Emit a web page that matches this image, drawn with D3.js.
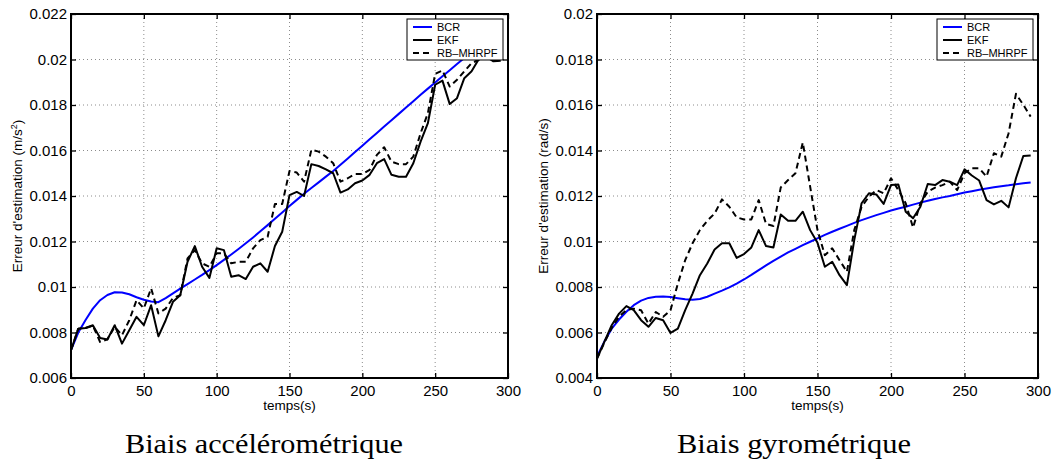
<!DOCTYPE html>
<html>
<head>
<meta charset="utf-8">
<script src="https://cdn.jsdelivr.net/npm/d3@7"></script>
<style>
  body { margin: 0; background: #fff; }
  text { font-family: "Liberation Sans", Arial, sans-serif; }
</style>
</head>
<body>
<svg id="fig" width="1059" height="461"></svg>
<script>
// time samples (s), shared by every series
var temps = [0, 5, 10, 15, 20, 25, 30, 35, 40, 45, 50, 55, 60, 65, 70, 75, 80, 85, 90, 95,
    100, 105, 110, 115, 120, 125, 130, 135, 140, 145, 150, 155, 160, 165, 170, 175, 180, 185, 190, 195,
    200, 205, 210, 215, 220, 225, 230, 235, 240, 245, 250, 255, 260, 265, 270, 275, 280, 285, 290, 295];

var xTicks = [0, 50, 100, 150, 200, 250, 300];
var yTicksAcc = [0.006, 0.008, 0.010, 0.012, 0.014, 0.016, 0.018, 0.020, 0.022];
var yTicksGyr = [0.004, 0.006, 0.008, 0.010, 0.012, 0.014, 0.016, 0.018, 0.020];

var seriesNames = ['BCR', 'EKF', 'RB\u2013MHRPF'];

// accelerometer bias
var accBCR = [0.00722, 0.00800, 0.00855, 0.00905, 0.00942, 0.00965, 0.00977, 0.00976, 0.00968, 0.00955,
    0.00944, 0.00936, 0.00933, 0.00951, 0.00972, 0.00993, 0.01013, 0.01033, 0.01053, 0.01074,
    0.01096, 0.01119, 0.01143, 0.01167, 0.01192, 0.01218, 0.01245, 0.01272, 0.01300, 0.01328,
    0.01356, 0.01383, 0.01410, 0.01435, 0.01460, 0.01485, 0.01510, 0.01537, 0.01565, 0.01593,
    0.01621, 0.01649, 0.01677, 0.01705, 0.01733, 0.01761, 0.01789, 0.01817, 0.01845, 0.01872,
    0.01899, 0.01926, 0.01953, 0.01980, 0.02007, 0.02034, 0.02060, 0.02087, 0.02113, 0.02140];
var accEKF = [0.00722, 0.00817, 0.00820, 0.00832, 0.00776, 0.00769, 0.00832, 0.00751, 0.00810, 0.00869,
    0.00832, 0.00920, 0.00783, 0.00854, 0.00935, 0.00964, 0.01111, 0.01180, 0.01089, 0.01040,
    0.01170, 0.01162, 0.01045, 0.01052, 0.01035, 0.01089, 0.01104, 0.01067, 0.01180, 0.01243,
    0.01404, 0.01418, 0.01400, 0.01540, 0.01532, 0.01517, 0.01500, 0.01415, 0.01429, 0.01456,
    0.01468, 0.01493, 0.01544, 0.01562, 0.01493, 0.01485, 0.01485, 0.01544, 0.01639, 0.01720,
    0.01889, 0.01907, 0.01804, 0.01830, 0.01918, 0.01948, 0.02002, 0.02014, 0.01992, 0.01995];
var accRB = [0.00722, 0.00817, 0.00820, 0.00830, 0.00758, 0.00770, 0.00825, 0.00788, 0.00854, 0.00942,
    0.00906, 0.00994, 0.00884, 0.00905, 0.00952, 0.00964, 0.01126, 0.01162, 0.01104, 0.01089,
    0.01148, 0.01148, 0.01104, 0.01111, 0.01111, 0.01170, 0.01206, 0.01221, 0.01365, 0.01365,
    0.01510, 0.01503, 0.01463, 0.01603, 0.01595, 0.01573, 0.01544, 0.01463, 0.01478, 0.01497,
    0.01497, 0.01515, 0.01581, 0.01614, 0.01551, 0.01540, 0.01540, 0.01573, 0.01676, 0.01764,
    0.01937, 0.01952, 0.01881, 0.01911, 0.01948, 0.01984, 0.01999, 0.02011, 0.02000, 0.01990];

// gyrometer bias
var gyrBCR = [0.00495, 0.00560, 0.00617, 0.00657, 0.00691, 0.00720, 0.00740, 0.00752, 0.00757, 0.00758,
    0.00756, 0.00751, 0.00746, 0.00744, 0.00747, 0.00757, 0.00771, 0.00784, 0.00798, 0.00815,
    0.00833, 0.00853, 0.00874, 0.00895, 0.00915, 0.00934, 0.00952, 0.00968, 0.00984, 0.00999,
    0.01014, 0.01029, 0.01043, 0.01056, 0.01069, 0.01082, 0.01094, 0.01105, 0.01116, 0.01126,
    0.01136, 0.01145, 0.01153, 0.01162, 0.01171, 0.01179, 0.01187, 0.01194, 0.01200, 0.01208,
    0.01215, 0.01221, 0.01227, 0.01233, 0.01238, 0.01243, 0.01247, 0.01252, 0.01256, 0.01259];
var gyrEKF = [0.00485, 0.00559, 0.00632, 0.00683, 0.00716, 0.00698, 0.00654, 0.00625, 0.00664, 0.00654,
    0.00598, 0.00617, 0.00698, 0.00771, 0.00852, 0.00903, 0.00965, 0.00992, 0.00992, 0.00928,
    0.00945, 0.00974, 0.01050, 0.00980, 0.00974, 0.01119, 0.01091, 0.01091, 0.01131, 0.01050,
    0.00994, 0.00889, 0.00911, 0.00852, 0.00808, 0.01006, 0.01168, 0.01212, 0.01207, 0.01165,
    0.01248, 0.01251, 0.01131, 0.01102, 0.01153, 0.01253, 0.01248, 0.01270, 0.01263, 0.01248,
    0.01317, 0.01290, 0.01268, 0.01182, 0.01163, 0.01179, 0.01150, 0.01278, 0.01376, 0.01378];
var gyrRB = [0.00485, 0.00555, 0.00620, 0.00670, 0.00698, 0.00705, 0.00698, 0.00639, 0.00690, 0.00669,
    0.00698, 0.00815, 0.00918, 0.00992, 0.01050, 0.01091, 0.01123, 0.01185, 0.01153, 0.01106,
    0.01097, 0.01097, 0.01182, 0.01077, 0.01068, 0.01238, 0.01270, 0.01300, 0.01435, 0.01241,
    0.01050, 0.00940, 0.00970, 0.00918, 0.00867, 0.01050, 0.01153, 0.01197, 0.01226, 0.01212,
    0.01278, 0.01226, 0.01168, 0.01061, 0.01168, 0.01219, 0.01237, 0.01248, 0.01263, 0.01226,
    0.01300, 0.01322, 0.01322, 0.01285, 0.01388, 0.01373, 0.01476, 0.01649, 0.01601, 0.01549];

var svg = d3.select('#fig');

// one MATLAB style panel
function drawPanel(p) {
    var x = d3.scaleLinear().domain([0, 300]).range([p.left, p.right]);
    var y = d3.scaleLinear().domain([p.yTicks[0], p.yTicks[p.yTicks.length - 1]]).range([p.bottom, p.top]);
    var g = svg.append('g');
    var fmt = function (d) { return String(+d.toFixed(3)); };

    // dotted grid
    g.append('g').selectAll('line').data(xTicks).join('line')
        .attr('x1', function (d) { return x(d); }).attr('x2', function (d) { return x(d); })
        .attr('y1', p.top).attr('y2', p.bottom)
        .attr('stroke', '#8c8c8c').attr('stroke-width', 1).attr('stroke-dasharray', '1,3');
    g.append('g').selectAll('line').data(p.yTicks).join('line')
        .attr('x1', p.left).attr('x2', p.right)
        .attr('y1', function (d) { return y(d); }).attr('y2', function (d) { return y(d); })
        .attr('stroke', '#8c8c8c').attr('stroke-width', 1).attr('stroke-dasharray', '1,3');

    // series
    var line = d3.line()
        .x(function (d, i) { return x(temps[i]); })
        .y(function (d) { return y(d); });
    var styles = [
        { data: p.bcr, color: '#0000ff', dash: null },
        { data: p.ekf, color: '#000', dash: null },
        { data: p.rb, color: '#000', dash: '6,4' }
    ];
    styles.forEach(function (s) {
        g.append('path')
            .attr('d', line(s.data))
            .attr('fill', 'none')
            .attr('stroke', s.color)
            .attr('stroke-width', 2)
            .attr('stroke-linejoin', 'round')
            .attr('stroke-dasharray', s.dash);
    });

    // axes, ticks pointing inwards
    var ax = g.append('g').attr('transform', 'translate(0,' + p.bottom + ')')
        .call(d3.axisBottom(x).tickValues(xTicks).tickSizeInner(-5).tickSizeOuter(0).tickPadding(7));
    var ay = g.append('g').attr('transform', 'translate(' + p.left + ',0)')
        .call(d3.axisLeft(y).tickValues(p.yTicks).tickFormat(fmt).tickSizeInner(-5).tickSizeOuter(0).tickPadding(4));
    g.append('g').attr('transform', 'translate(0,' + p.top + ')')
        .call(d3.axisTop(x).tickValues(xTicks).tickFormat('').tickSizeInner(-5).tickSizeOuter(0));
    g.append('g').attr('transform', 'translate(' + p.right + ',0)')
        .call(d3.axisRight(y).tickValues(p.yTicks).tickFormat('').tickSizeInner(-5).tickSizeOuter(0));
    g.selectAll('.domain').remove();
    g.selectAll('.tick line').attr('stroke', '#000').attr('stroke-width', 1.3);
    ax.selectAll('text').attr('font-size', 15).attr('fill', '#000');
    ay.selectAll('text').attr('font-size', 15).attr('fill', '#000');

    // frame
    g.append('rect')
        .attr('x', p.left).attr('y', p.top)
        .attr('width', p.right - p.left).attr('height', p.bottom - p.top)
        .attr('fill', 'none').attr('stroke', '#000').attr('stroke-width', 2);

    // axis titles
    g.append('text')
        .attr('x', (p.left + p.right) / 2).attr('y', p.bottom + 32)
        .attr('text-anchor', 'middle').attr('font-size', 13.5)
        .text('temps(s)');
    var yl = g.append('text')
        .attr('transform', 'translate(' + p.ylabelX + ',' + (p.top + p.bottom) / 2 + ') rotate(-90)')
        .attr('text-anchor', 'middle').attr('font-size', 13.5);
    yl.append('tspan').text(p.ylabel);
    if (p.ysup) {
        yl.append('tspan').attr('baseline-shift', 'super').attr('font-size', 9).text(p.ysup);
        yl.append('tspan').text(')');
    }

    // legend
    var lw = 96, lh = 41;
    var lx = p.right - 5 - lw, ly = p.top + 5;
    var leg = g.append('g').attr('transform', 'translate(' + lx + ',' + ly + ')');
    leg.append('rect').attr('width', lw).attr('height', lh)
        .attr('fill', '#fff').attr('stroke', '#000').attr('stroke-width', 1);
    seriesNames.forEach(function (name, i) {
        var cy = 8 + i * 13;
        leg.append('line')
            .attr('x1', 6).attr('x2', 25).attr('y1', cy).attr('y2', cy)
            .attr('stroke', styles[i].color).attr('stroke-width', 2)
            .attr('stroke-dasharray', styles[i].dash);
        leg.append('text')
            .attr('x', 30).attr('y', cy).attr('dy', '0.35em')
            .attr('font-size', 11).text(name);
    });

    // caption below the panel
    svg.append('text')
        .attr('x', p.captionX).attr('y', 453)
        .attr('text-anchor', 'middle')
        .style('font-family', '"Liberation Serif", "DejaVu Serif", serif')
        .attr('font-size', 27)
        .attr('textLength', p.captionW).attr('lengthAdjust', 'spacingAndGlyphs')
        .text(p.caption);
}

drawPanel({
    left: 71, right: 508, top: 14, bottom: 378,
    yTicks: yTicksAcc,
    bcr: accBCR, ekf: accEKF, rb: accRB,
    ylabelX: 22, ylabel: 'Erreur d\'estimation (m/s', ysup: '2',
    caption: 'Biais acc\u00e9l\u00e9rom\u00e9trique', captionX: 264, captionW: 278
});

drawPanel({
    left: 597, right: 1038, top: 14, bottom: 378,
    yTicks: yTicksGyr,
    bcr: gyrBCR, ekf: gyrEKF, rb: gyrRB,
    ylabelX: 548, ylabel: 'Erreur d\'estimation (rad/s)', ysup: null,
    caption: 'Biais gyrom\u00e9trique', captionX: 794, captionW: 234
});
</script>
</body>
</html>
